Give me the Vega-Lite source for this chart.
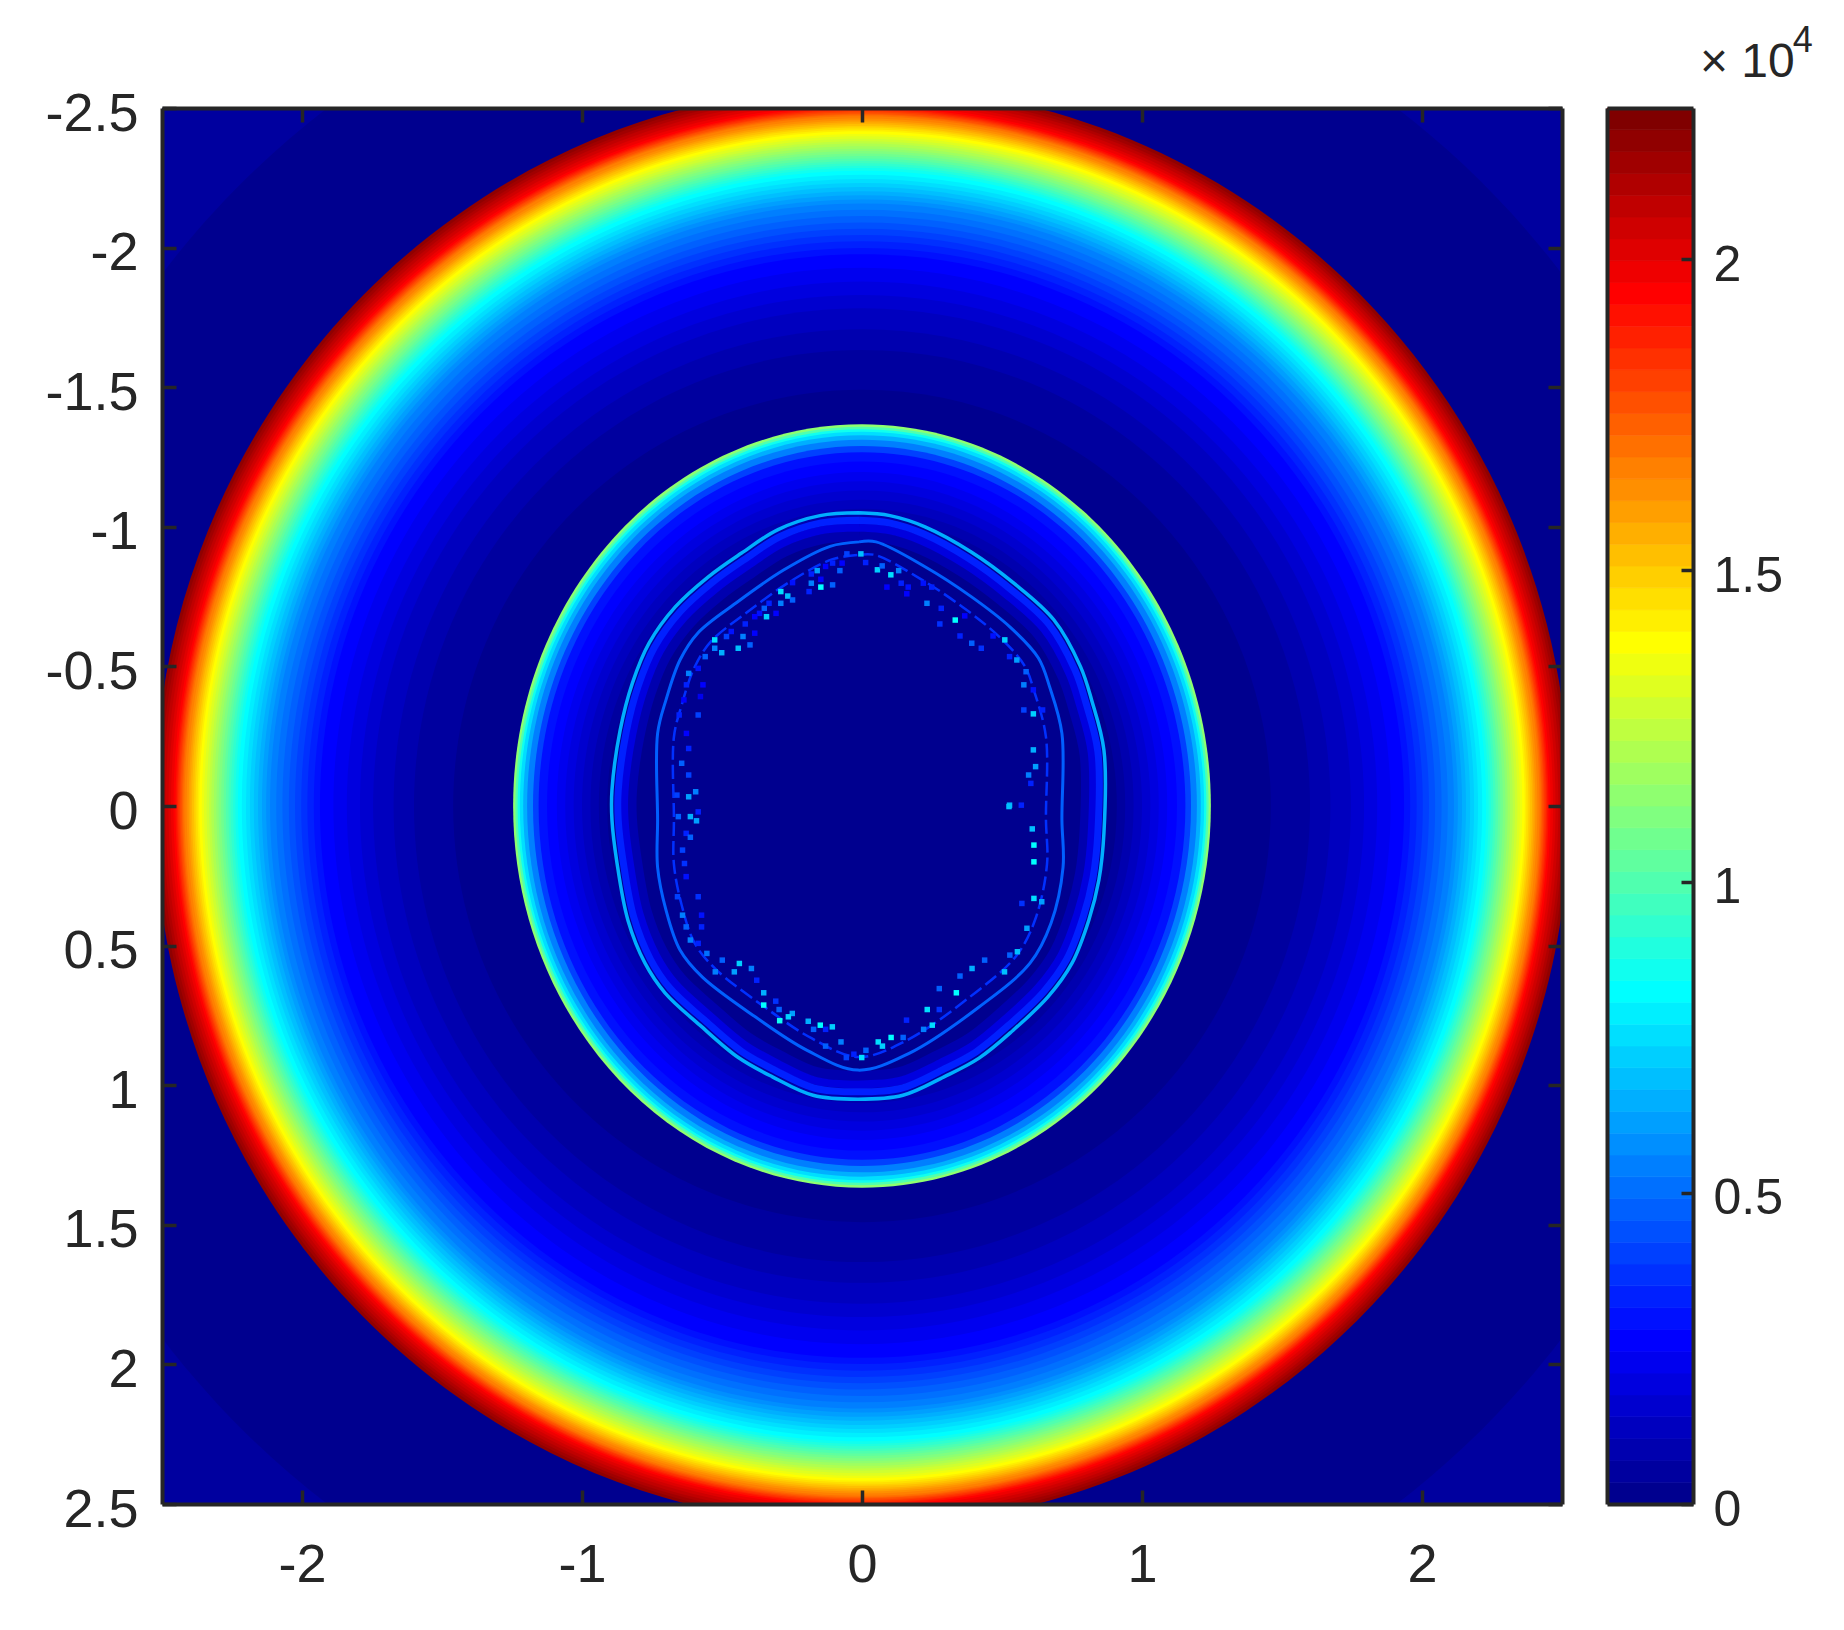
{"$schema":"https://vega.github.io/schema/vega-lite/v6.json","background":"white","padding":{"left":44,"top":23,"right":0,"bottom":0},"spacing":45,"bounds":"flush",
"config":{"view":{"stroke":null},"axis":{"domainColor":"#262626","domainWidth":4,"tickColor":"#262626","tickWidth":3.5,"tickSize":-14,"labelFont":"Liberation Sans","labelFontSize":54,"labelColor":"#262626","grid":false,"labelOverlap":false,"labelFlush":false,"labelBound":false}},
"datasets":{
"corner":[{"r":5,"v":526}],
"base":[{"r":3.14,"v":175}],
"outer":[{"r":2.527,"v":21904},{"r":2.516,"v":21554},{"r":2.506,"v":21203},{"r":2.497,"v":20853},{"r":2.487,"v":20502},{"r":2.477,"v":20152},{"r":2.468,"v":19801},{"r":2.459,"v":19451},{"r":2.452,"v":19100},{"r":2.447,"v":18750},{"r":2.443,"v":18400},{"r":2.438,"v":18049},{"r":2.434,"v":17699},{"r":2.429,"v":17348},{"r":2.425,"v":16998},{"r":2.42,"v":16647},{"r":2.412,"v":16297},{"r":2.405,"v":15946},{"r":2.399,"v":15596},{"r":2.393,"v":15245},{"r":2.386,"v":14895},{"r":2.38,"v":14544},{"r":2.373,"v":14194},{"r":2.367,"v":13844},{"r":2.358,"v":13493},{"r":2.35,"v":13143},{"r":2.341,"v":12792},{"r":2.332,"v":12442},{"r":2.324,"v":12091},{"r":2.315,"v":11741},{"r":2.306,"v":11390},{"r":2.298,"v":11040},{"r":2.289,"v":10689},{"r":2.28,"v":10339},{"r":2.272,"v":9988},{"r":2.263,"v":9638},{"r":2.255,"v":9287},{"r":2.246,"v":8937},{"r":2.238,"v":8587},{"r":2.229,"v":8236},{"r":2.215,"v":7886},{"r":2.2,"v":7535},{"r":2.186,"v":7185},{"r":2.172,"v":6834},{"r":2.157,"v":6484},{"r":2.143,"v":6133},{"r":2.128,"v":5783},{"r":2.114,"v":5432},{"r":2.092,"v":5082},{"r":2.07,"v":4731},{"r":2.047,"v":4381},{"r":2.025,"v":4031},{"r":2.003,"v":3680},{"r":1.981,"v":3330},{"r":1.958,"v":2979},{"r":1.936,"v":2629},{"r":1.888,"v":2278},{"r":1.84,"v":1928},{"r":1.793,"v":1577},{"r":1.746,"v":1227},{"r":1.673,"v":876},{"r":1.6,"v":526},{"r":1.46,"v":175}],
"ringA":[{"r":1.246,"v":11390},{"r":1.238,"v":9988},{"r":1.23,"v":8587},{"r":1.222,"v":7535},{"r":1.21,"v":6484},{"r":1.196,"v":5432},{"r":1.175,"v":4031},{"r":1.155,"v":2979},{"r":1.125,"v":2629},{"r":1.09,"v":2278},{"r":1.06,"v":1928},{"r":1.03,"v":1577},{"r":1.0,"v":1227},{"r":0.97,"v":876},{"r":0.94,"v":526},{"r":0.91,"v":175}],
"rimB":[{"i":0,"x":-0.01,"y":-1.05},{"i":1,"x":0.1,"y":-1.04},{"i":2,"x":0.225,"y":-1.0},{"i":3,"x":0.39,"y":-0.91},{"i":4,"x":0.54,"y":-0.8},{"i":5,"x":0.685,"y":-0.667},{"i":6,"x":0.78,"y":-0.5},{"i":7,"x":0.82,"y":-0.38},{"i":8,"x":0.864,"y":-0.2},{"i":9,"x":0.864,"y":0.097},{"i":10,"x":0.846,"y":0.265},{"i":11,"x":0.81,"y":0.409},{"i":12,"x":0.75,"y":0.563},{"i":13,"x":0.664,"y":0.684},{"i":14,"x":0.54,"y":0.803},{"i":15,"x":0.418,"y":0.903},{"i":16,"x":0.293,"y":0.97},{"i":17,"x":0.146,"y":1.036},{"i":18,"x":-0.014,"y":1.05},{"i":19,"x":-0.175,"y":1.036},{"i":20,"x":-0.32,"y":0.97},{"i":21,"x":-0.443,"y":0.9},{"i":22,"x":-0.579,"y":0.785},{"i":23,"x":-0.703,"y":0.67},{"i":24,"x":-0.775,"y":0.563},{"i":25,"x":-0.836,"y":0.409},{"i":26,"x":-0.875,"y":0.204},{"i":27,"x":-0.893,"y":0.05},{"i":28,"x":-0.893,"y":-0.057},{"i":29,"x":-0.864,"y":-0.27},{"i":30,"x":-0.82,"y":-0.44},{"i":31,"x":-0.76,"y":-0.584},{"i":32,"x":-0.667,"y":-0.713},{"i":33,"x":-0.55,"y":-0.82},{"i":34,"x":-0.43,"y":-0.906},{"i":35,"x":-0.3,"y":-0.99},{"i":36,"x":-0.15,"y":-1.04},{"i":37,"x":-0.01,"y":-1.05}],
"rimC":[{"i":0,"x":-0.01,"y":-0.946},{"i":1,"x":0.05,"y":-0.946},{"i":2,"x":0.225,"y":-0.857},{"i":3,"x":0.39,"y":-0.75},{"i":4,"x":0.53,"y":-0.64},{"i":5,"x":0.63,"y":-0.53},{"i":6,"x":0.67,"y":-0.427},{"i":7,"x":0.714,"y":-0.26},{"i":8,"x":0.714,"y":0.05},{"i":9,"x":0.718,"y":0.22},{"i":10,"x":0.675,"y":0.42},{"i":11,"x":0.6,"y":0.563},{"i":12,"x":0.418,"y":0.72},{"i":13,"x":0.17,"y":0.885},{"i":14,"x":-0.014,"y":0.946},{"i":15,"x":-0.196,"y":0.875},{"i":16,"x":-0.38,"y":0.756},{"i":17,"x":-0.57,"y":0.613},{"i":18,"x":-0.65,"y":0.516},{"i":19,"x":-0.7,"y":0.373},{"i":20,"x":-0.73,"y":0.22},{"i":21,"x":-0.73,"y":0.05},{"i":22,"x":-0.73,"y":-0.26},{"i":23,"x":-0.7,"y":-0.38},{"i":24,"x":-0.65,"y":-0.523},{"i":25,"x":-0.586,"y":-0.62},{"i":26,"x":-0.45,"y":-0.727},{"i":27,"x":-0.28,"y":-0.845},{"i":28,"x":-0.114,"y":-0.93},{"i":29,"x":-0.01,"y":-0.946}],
"speck":[{"x":-0.054,"y":-0.903,"v":4031},{"x":-0.004,"y":-0.903,"v":6834},{"x":-0.071,"y":-0.87,"v":2629},{"x":-0.105,"y":-0.87,"v":3330},{"x":-0.13,"y":-0.858,"v":2629},{"x":-0.079,"y":-0.843,"v":4731},{"x":-0.16,"y":-0.843,"v":6133},{"x":-0.181,"y":-0.831,"v":3330},{"x":-0.147,"y":-0.812,"v":2629},{"x":-0.181,"y":-0.798,"v":5432},{"x":-0.248,"y":-0.8,"v":2979},{"x":-0.105,"y":-0.792,"v":4731},{"x":-0.147,"y":-0.784,"v":8236},{"x":-0.189,"y":-0.768,"v":3330},{"x":-0.29,"y":-0.768,"v":7535},{"x":-0.265,"y":-0.752,"v":6834},{"x":-0.248,"y":-0.738,"v":4731},{"x":-0.29,"y":-0.726,"v":5432},{"x":-0.332,"y":-0.726,"v":3330},{"x":-0.349,"y":-0.708,"v":4731},{"x":-0.366,"y":-0.69,"v":2979},{"x":-0.307,"y":-0.69,"v":2629},{"x":-0.341,"y":-0.678,"v":7185},{"x":-0.383,"y":-0.678,"v":2629},{"x":-0.417,"y":-0.652,"v":3330},{"x":-0.467,"y":-0.625,"v":2979},{"x":-0.383,"y":-0.619,"v":2629},{"x":-0.425,"y":-0.607,"v":5432},{"x":-0.484,"y":-0.607,"v":4031},{"x":-0.526,"y":-0.595,"v":7535},{"x":-0.501,"y":-0.549,"v":6484},{"x":-0.442,"y":-0.565,"v":6834},{"x":-0.4,"y":-0.577,"v":4731},{"x":-0.56,"y":-0.535,"v":4731},{"x":-0.526,"y":-0.565,"v":5432},{"x":-0.585,"y":-0.493,"v":2979},{"x":-0.619,"y":-0.475,"v":5432},{"x":-0.568,"y":-0.434,"v":2629},{"x":-0.627,"y":-0.434,"v":3330},{"x":-0.636,"y":-0.38,"v":2629},{"x":-0.577,"y":-0.392,"v":2278},{"x":-0.653,"y":-0.326,"v":3330},{"x":-0.585,"y":-0.326,"v":4031},{"x":-0.627,"y":-0.26,"v":2629},{"x":-0.619,"y":-0.206,"v":3330},{"x":-0.644,"y":-0.153,"v":4731},{"x":-0.619,"y":-0.111,"v":4031},{"x":-0.594,"y":-0.051,"v":5432},{"x":-0.619,"y":-0.033,"v":6133},{"x":-0.661,"y":-0.039,"v":4031},{"x":-0.585,"y":0.021,"v":3330},{"x":-0.656,"y":0.038,"v":4731},
{"x":0.013,"y":-0.872,"v":3330},{"x":0.055,"y":-0.846,"v":7185},{"x":0.072,"y":-0.86,"v":4731},{"x":0.103,"y":-0.828,"v":7535},{"x":0.131,"y":-0.843,"v":5432},{"x":0.14,"y":-0.798,"v":3330},{"x":0.089,"y":-0.784,"v":2629},{"x":0.165,"y":-0.784,"v":2979},{"x":0.16,"y":-0.76,"v":2629},{"x":0.219,"y":-0.798,"v":2979},{"x":0.249,"y":-0.784,"v":3330},{"x":0.232,"y":-0.726,"v":5432},{"x":0.283,"y":-0.708,"v":3330},{"x":0.333,"y":-0.666,"v":8236},{"x":0.278,"y":-0.652,"v":3680},{"x":0.367,"y":-0.681,"v":2629},{"x":0.35,"y":-0.609,"v":3330},{"x":0.392,"y":-0.583,"v":4731},{"x":0.426,"y":-0.565,"v":3680},{"x":0.468,"y":-0.609,"v":2979},{"x":0.51,"y":-0.595,"v":7185},{"x":0.527,"y":-0.535,"v":3330},{"x":0.553,"y":-0.523,"v":6133},{"x":0.586,"y":-0.481,"v":4731},{"x":0.578,"y":-0.434,"v":5432},{"x":0.612,"y":-0.416,"v":2979},{"x":0.578,"y":-0.344,"v":4031},{"x":0.612,"y":-0.33,"v":7185},{"x":0.645,"y":-0.344,"v":3330},{"x":0.612,"y":-0.201,"v":6484},{"x":0.62,"y":-0.141,"v":6133},{"x":0.603,"y":-0.081,"v":3330},{"x":0.527,"y":-0.003,"v":6484},{"x":0.569,"y":-0.003,"v":3330},{"x":0.595,"y":-0.111,"v":5432},
{"x":-0.613,"y":0.038,"v":6484},{"x":-0.591,"y":0.053,"v":6133},{"x":-0.628,"y":0.098,"v":3330},{"x":-0.613,"y":0.112,"v":4731},{"x":-0.641,"y":0.158,"v":4031},{"x":-0.634,"y":0.206,"v":3680},{"x":-0.628,"y":0.253,"v":2979},{"x":-0.659,"y":0.325,"v":4031},{"x":-0.585,"y":0.325,"v":3680},{"x":-0.641,"y":0.391,"v":5432},{"x":-0.573,"y":0.391,"v":2979},{"x":-0.628,"y":0.433,"v":4731},{"x":-0.573,"y":0.433,"v":3330},{"x":-0.613,"y":0.48,"v":5432},{"x":-0.585,"y":0.492,"v":3330},{"x":-0.554,"y":0.528,"v":5082},{"x":-0.499,"y":0.552,"v":4731},{"x":-0.438,"y":0.564,"v":7185},{"x":-0.395,"y":0.582,"v":5432},{"x":-0.524,"y":0.594,"v":5432},{"x":-0.456,"y":0.594,"v":6133},{"x":-0.376,"y":0.624,"v":3330},{"x":-0.351,"y":0.669,"v":6484},{"x":-0.308,"y":0.699,"v":3680},{"x":-0.351,"y":0.713,"v":8236},{"x":-0.296,"y":0.729,"v":4731},{"x":-0.249,"y":0.743,"v":6133},{"x":-0.263,"y":0.755,"v":7185},{"x":-0.294,"y":0.769,"v":8587},{"x":-0.192,"y":0.771,"v":6484},{"x":-0.149,"y":0.785,"v":8236},{"x":-0.106,"y":0.791,"v":7185},{"x":-0.173,"y":0.8,"v":4731},{"x":-0.13,"y":0.8,"v":3330},{"x":-0.075,"y":0.845,"v":5432},{"x":-0.13,"y":0.86,"v":4731},{"x":-0.056,"y":0.901,"v":4031},{"x":-0.029,"y":0.889,"v":3330},{"x":-0.001,"y":0.901,"v":7535},{"x":0.014,"y":0.875,"v":4731},{"x":0.058,"y":0.845,"v":7535},{"x":0.073,"y":0.86,"v":7185},{"x":0.104,"y":0.829,"v":8236},{"x":0.147,"y":0.829,"v":4731},{"x":0.159,"y":0.767,"v":3330},{"x":0.22,"y":0.8,"v":5432},{"x":0.251,"y":0.785,"v":7535},{"x":0.233,"y":0.729,"v":7535},{"x":0.276,"y":0.729,"v":3680},{"x":0.337,"y":0.669,"v":8236},{"x":0.276,"y":0.654,"v":4731},{"x":0.35,"y":0.609,"v":4731},{"x":0.393,"y":0.582,"v":6484},{"x":0.438,"y":0.552,"v":4731},{"x":0.509,"y":0.594,"v":6834},{"x":0.555,"y":0.522,"v":6834},{"x":0.528,"y":0.534,"v":4731},{"x":0.589,"y":0.438,"v":6133},{"x":0.571,"y":0.349,"v":3680},{"x":0.614,"y":0.331,"v":7535},{"x":0.642,"y":0.343,"v":6133},{"x":0.614,"y":0.2,"v":8236},{"x":0.614,"y":0.14,"v":8236},{"x":0.608,"y":0.082,"v":6834},{"x":0.525,"y":0.002,"v":6834}],
"bar":[{"a":0,"b":350,"v":175},{"a":350,"b":701,"v":526},{"a":701,"b":1051,"v":876},{"a":1051,"b":1402,"v":1227},{"a":1402,"b":1752,"v":1577},{"a":1752,"b":2103,"v":1928},{"a":2103,"b":2453,"v":2278},{"a":2453,"b":2804,"v":2629},{"a":2804,"b":3154,"v":2979},{"a":3154,"b":3505,"v":3330},{"a":3505,"b":3855,"v":3680},{"a":3855,"b":4206,"v":4031},{"a":4206,"b":4556,"v":4381},{"a":4556,"b":4907,"v":4731},{"a":4907,"b":5257,"v":5082},{"a":5257,"b":5608,"v":5432},{"a":5608,"b":5958,"v":5783},{"a":5958,"b":6308,"v":6133},{"a":6308,"b":6659,"v":6484},{"a":6659,"b":7009,"v":6834},{"a":7009,"b":7360,"v":7185},{"a":7360,"b":7710,"v":7535},{"a":7710,"b":8061,"v":7886},{"a":8061,"b":8411,"v":8236},{"a":8411,"b":8762,"v":8587},{"a":8762,"b":9112,"v":8937},{"a":9112,"b":9463,"v":9287},{"a":9463,"b":9813,"v":9638},{"a":9813,"b":10164,"v":9988},{"a":10164,"b":10514,"v":10339},{"a":10514,"b":10865,"v":10689},{"a":10865,"b":11215,"v":11040},{"a":11215,"b":11565,"v":11390},{"a":11565,"b":11916,"v":11741},{"a":11916,"b":12266,"v":12091},{"a":12266,"b":12617,"v":12442},{"a":12617,"b":12967,"v":12792},{"a":12967,"b":13318,"v":13143},{"a":13318,"b":13668,"v":13493},{"a":13668,"b":14019,"v":13844},{"a":14019,"b":14369,"v":14194},{"a":14369,"b":14720,"v":14544},{"a":14720,"b":15070,"v":14895},{"a":15070,"b":15421,"v":15245},{"a":15421,"b":15771,"v":15596},{"a":15771,"b":16122,"v":15946},{"a":16122,"b":16472,"v":16297},{"a":16472,"b":16822,"v":16647},{"a":16822,"b":17173,"v":16998},{"a":17173,"b":17523,"v":17348},{"a":17523,"b":17874,"v":17699},{"a":17874,"b":18224,"v":18049},{"a":18224,"b":18575,"v":18400},{"a":18575,"b":18925,"v":18750},{"a":18925,"b":19276,"v":19100},{"a":19276,"b":19626,"v":19451},{"a":19626,"b":19977,"v":19801},{"a":19977,"b":20327,"v":20152},{"a":20327,"b":20678,"v":20502},{"a":20678,"b":21028,"v":20853},{"a":21028,"b":21379,"v":21203},{"a":21379,"b":21730,"v":21554},{"a":21730,"b":22080,"v":21904},{"a":22080,"b":22430,"v":22255}],
"mant":[{"t":"× 10"}],
"expo":[{"t":"4"}]
},
"hconcat":[
{"width":1400,"height":1396,
"resolve":{"scale":{"x":"independent","y":"independent"}},
"layer":[
{"data":{"name":"corner"},"mark":{"type":"point","shape":"M-1,0A1,1,0,1,1,1,0A1,1,0,1,1,-1,0Z","filled":true,"opacity":1,"clip":true},"encoding":{
"x":{"datum":0,"type":"quantitative","scale":{"domain":[-2.5,2.5]},"axis":{"title":null,"zindex":1,"orient":"bottom","values":[-2,-1,0,1,2],"labelExpr":"datum.value+''","labelPadding":48,"labelBaseline":"top"}},
"y":{"datum":0,"type":"quantitative","scale":{"domain":[-2.5,2.5],"reverse":true},"axis":{"title":null,"zindex":1,"orient":"left","values":[-2.5,-2,-1.5,-1,-0.5,0,0.5,1,1.5,2,2.5],"labelExpr":"datum.value+''","labelPadding":38,"labelOffset":6}},
"size":{"field":"r","type":"quantitative","legend":null,"scale":{"type":"pow","exponent":2,"domain":[0,5],"range":[0,7840000]}},
"color":{"field":"v","type":"quantitative","legend":null,"scale":{"type":"linear","domain":[175,2629,8236,13844,19451,22255],"range":["#00008f","#0000ff","#00ffff","#ffff00","#ff0000","#800000"],"interpolate":"rgb"}}}},
{"data":{"name":"base"},"mark":{"type":"point","shape":"M-1,0A1,1,0,1,1,1,0A1,1,0,1,1,-1,0Z","filled":true,"opacity":1,"clip":true},"encoding":{
"x":{"datum":0,"type":"quantitative","scale":{"domain":[-2.5,2.5]},"axis":{"title":null,"zindex":1,"orient":"top","values":[-2,-1,0,1,2],"labels":false}},
"y":{"datum":0,"type":"quantitative","scale":{"domain":[-2.5,2.5],"reverse":true},"axis":{"title":null,"zindex":1,"orient":"right","values":[-2.5,-2,-1.5,-1,-0.5,0,0.5,1,1.5,2,2.5],"labels":false}},
"size":{"field":"r","type":"quantitative","legend":null,"scale":{"type":"pow","exponent":2,"domain":[0,5],"range":[0,7840000]}},
"color":{"field":"v","type":"quantitative","legend":null,"scale":{"type":"linear","domain":[175,2629,8236,13844,19451,22255],"range":["#00008f","#0000ff","#00ffff","#ffff00","#ff0000","#800000"],"interpolate":"rgb"}}}},
{"data":{"name":"outer"},"mark":{"type":"point","shape":"M-1,0A1,1.018,0,1,1,1,0A1,1.018,0,1,1,-1,0Z","filled":true,"opacity":1,"clip":true},"encoding":{
"x":{"datum":0,"type":"quantitative","scale":{"domain":[-2.5,2.5]},"axis":null},
"y":{"datum":0,"type":"quantitative","scale":{"domain":[-2.5,2.5],"reverse":true},"axis":null},
"size":{"field":"r","type":"quantitative","legend":null,"scale":{"type":"pow","exponent":2,"domain":[0,5],"range":[0,7840000]}},
"color":{"field":"v","type":"quantitative","legend":null,"scale":{"type":"linear","domain":[175,2629,8236,13844,19451,22255],"range":["#00008f","#0000ff","#00ffff","#ffff00","#ff0000","#800000"],"interpolate":"rgb"}}}},
{"data":{"name":"ringA"},"mark":{"type":"point","shape":"M-1,0A1,1.094,0,1,1,1,0A1,1.094,0,1,1,-1,0Z","filled":true,"opacity":1},"encoding":{
"x":{"datum":0,"type":"quantitative","scale":{"domain":[-2.5,2.5]},"axis":null},
"y":{"datum":0,"type":"quantitative","scale":{"domain":[-2.5,2.5],"reverse":true},"axis":null},
"size":{"field":"r","type":"quantitative","legend":null,"scale":{"type":"pow","exponent":2,"domain":[0,5],"range":[0,7840000]}},
"color":{"field":"v","type":"quantitative","legend":null,"scale":{"type":"linear","domain":[175,2629,8236,13844,19451,22255],"range":["#00008f","#0000ff","#00ffff","#ffff00","#ff0000","#800000"],"interpolate":"rgb"}}}},
{"data":{"name":"rimB"},"mark":{"type":"line","strokeWidth":10,"interpolate":"catmull-rom"},"encoding":{"x":{"field":"x","type":"quantitative","scale":{"domain":[-2.717,2.717]},"axis":null},"y":{"field":"y","type":"quantitative","scale":{"domain":[-2.717,2.717],"reverse":true},"axis":null},"order":{"field":"i"},"color":{"datum":876,"type":"quantitative","legend":null,"scale":{"type":"linear","domain":[175,2629,8236,13844,19451,22255],"range":["#00008f","#0000ff","#00ffff","#ffff00","#ff0000","#800000"],"interpolate":"rgb"}}}},
{"data":{"name":"rimB"},"mark":{"type":"line","strokeWidth":8,"interpolate":"catmull-rom"},"encoding":{"x":{"field":"x","type":"quantitative","scale":{"domain":[-2.632,2.632]},"axis":null},"y":{"field":"y","type":"quantitative","scale":{"domain":[-2.632,2.632],"reverse":true},"axis":null},"order":{"field":"i"},"color":{"datum":1928,"type":"quantitative","legend":null,"scale":{"type":"linear","domain":[175,2629,8236,13844,19451,22255],"range":["#00008f","#0000ff","#00ffff","#ffff00","#ff0000","#800000"],"interpolate":"rgb"}}}},
{"data":{"name":"rimB"},"mark":{"type":"line","strokeWidth":7,"interpolate":"catmull-rom"},"encoding":{"x":{"field":"x","type":"quantitative","scale":{"domain":[-2.564,2.564]},"axis":null},"y":{"field":"y","type":"quantitative","scale":{"domain":[-2.564,2.564],"reverse":true},"axis":null},"order":{"field":"i"},"color":{"datum":3330,"type":"quantitative","legend":null,"scale":{"type":"linear","domain":[175,2629,8236,13844,19451,22255],"range":["#00008f","#0000ff","#00ffff","#ffff00","#ff0000","#800000"],"interpolate":"rgb"}}}},
{"data":{"name":"rimB"},"mark":{"type":"line","strokeWidth":3.5,"interpolate":"catmull-rom"},"encoding":{"x":{"field":"x","type":"quantitative","scale":{"domain":[-2.5,2.5]},"axis":null},"y":{"field":"y","type":"quantitative","scale":{"domain":[-2.5,2.5],"reverse":true},"axis":null},"order":{"field":"i"},"color":{"datum":6484,"type":"quantitative","legend":null,"scale":{"type":"linear","domain":[175,2629,8236,13844,19451,22255],"range":["#00008f","#0000ff","#00ffff","#ffff00","#ff0000","#800000"],"interpolate":"rgb"}}}},
{"data":{"name":"rimC"},"mark":{"type":"line","strokeWidth":2.5,"strokeDash":[14,5],"interpolate":"catmull-rom"},"encoding":{"x":{"field":"x","type":"quantitative","scale":{"domain":[-2.717,2.717]},"axis":null},"y":{"field":"y","type":"quantitative","scale":{"domain":[-2.63,2.63],"reverse":true},"axis":null},"order":{"field":"i"},"color":{"datum":3680,"type":"quantitative","legend":null,"scale":{"type":"linear","domain":[175,2629,8236,13844,19451,22255],"range":["#00008f","#0000ff","#00ffff","#ffff00","#ff0000","#800000"],"interpolate":"rgb"}}}},
{"data":{"name":"rimC"},"mark":{"type":"line","strokeWidth":3,"interpolate":"catmull-rom"},"encoding":{"x":{"field":"x","type":"quantitative","scale":{"domain":[-2.5,2.5]},"axis":null},"y":{"field":"y","type":"quantitative","scale":{"domain":[-2.5,2.5],"reverse":true},"axis":null},"order":{"field":"i"},"color":{"datum":4731,"type":"quantitative","legend":null,"scale":{"type":"linear","domain":[175,2629,8236,13844,19451,22255],"range":["#00008f","#0000ff","#00ffff","#ffff00","#ff0000","#800000"],"interpolate":"rgb"}}}},
{"data":{"name":"speck"},"mark":{"type":"square","size":30,"opacity":1},"encoding":{"x":{"field":"x","type":"quantitative","scale":{"domain":[-2.5,2.5]},"axis":null},"y":{"field":"y","type":"quantitative","scale":{"domain":[-2.5,2.5],"reverse":true},"axis":null},
"color":{"field":"v","type":"quantitative","legend":null,"scale":{"type":"linear","domain":[175,2629,8236,13844,19451,22255],"range":["#00008f","#0000ff","#00ffff","#ffff00","#ff0000","#800000"],"interpolate":"rgb"}}}}
]},
{"width":86,"height":1396,
"resolve":{"scale":{"x":"independent","y":"independent"}},
"layer":[
{"data":{"name":"bar"},"mark":{"type":"rect","strokeWidth":0.7},"encoding":{
"x":{"datum":0,"type":"quantitative","scale":{"domain":[0,1]},"axis":{"title":null,"zindex":1,"orient":"bottom","ticks":false,"labels":false}},"x2":{"datum":1},
"y":{"field":"a","type":"quantitative","scale":{"domain":[0,22430]},"axis":{"title":null,"zindex":1,"orient":"right","values":[0,5000,10000,15000,20000],"labelExpr":"(datum.value/10000)+''","labelPadding":32,"labelOffset":6,"tickSize":-12,"labelFontSize":50}},"y2":{"field":"b"},
"color":{"field":"v","type":"quantitative","legend":null,"scale":{"type":"linear","domain":[175,2629,8236,13844,19451,22255],"range":["#00008f","#0000ff","#00ffff","#ffff00","#ff0000","#800000"],"interpolate":"rgb"}},
"stroke":{"field":"v","type":"quantitative","legend":null,"scale":{"type":"linear","domain":[175,2629,8236,13844,19451,22255],"range":["#00008f","#0000ff","#00ffff","#ffff00","#ff0000","#800000"],"interpolate":"rgb"}}}},
{"data":{"name":"mant"},"mark":{"type":"text","font":"Liberation Sans","fontSize":48,"align":"left","baseline":"alphabetic","color":"#262626"},"encoding":{"text":{"field":"t"},
"x":{"datum":1.08,"type":"quantitative","scale":{"domain":[0,1]},"axis":{"title":null,"zindex":1,"orient":"top","ticks":false,"labels":false}},
"y":{"datum":22924,"type":"quantitative","scale":{"domain":[0,22430]},"axis":{"title":null,"zindex":1,"orient":"left","ticks":false,"labels":false}}}},
{"data":{"name":"expo"},"mark":{"type":"text","font":"Liberation Sans","fontSize":36,"align":"left","baseline":"alphabetic","color":"#262626"},"encoding":{"text":{"field":"t"},
"x":{"datum":2.16,"type":"quantitative","scale":{"domain":[0,1]},"axis":null},
"y":{"datum":23325,"type":"quantitative","scale":{"domain":[0,22430]},"axis":null}}}
]}
]}
